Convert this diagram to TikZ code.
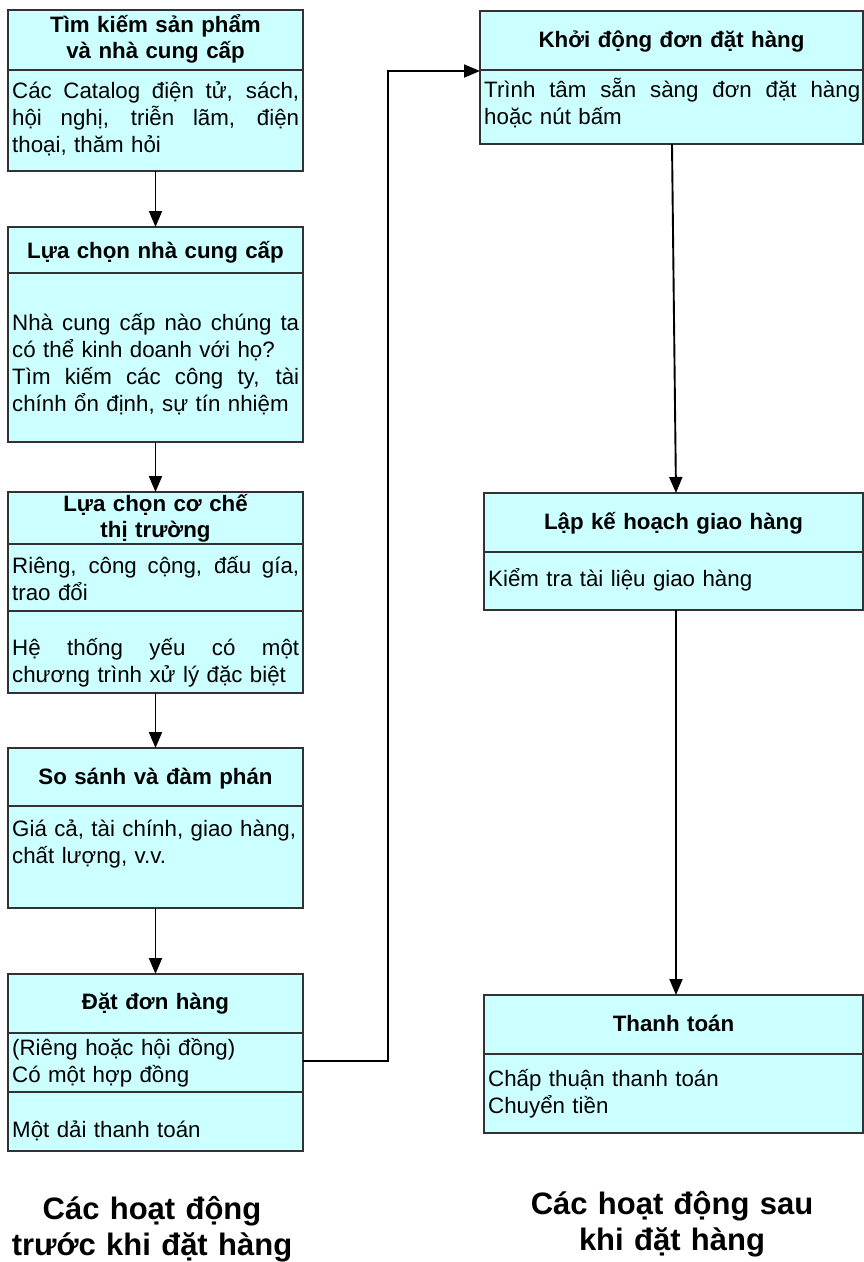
\documentclass[tikz,border=0pt]{standalone}
\usepackage{fontspec}
\setmainfont{Liberation Sans}
\usetikzlibrary{arrows.meta}

\definecolor{boxfill}{RGB}{204,255,255}
\definecolor{boxline}{RGB}{50,50,50}

% a line whose word spaces are stretched to fill the given width
\newcommand{\jl}[2]{\leavevmode\hbox to #1{\spaceskip=0.28em plus 1fil\relax #2}}

\begin{document}
\begin{tikzpicture}[x=1pt,y=-1pt,
  box/.style={draw=boxline, line width=1.1pt, fill=boxfill, inner sep=0pt, outer sep=0pt, anchor=north west},
  divider/.style={draw=boxline, line width=1.1pt},
  title/.style={font=\bfseries\fontsize{22.3}{26}\selectfont, text width=300pt, align=center, anchor=base, inner sep=0pt},
  body/.style={font=\fontsize{22.3}{27}\selectfont, text width=400pt, align=left, anchor=base west, inner sep=0pt},
  caption/.style={font=\bfseries\fontsize{31}{36}\selectfont, text width=420pt, align=center, anchor=base, inner sep=0pt},
  arr/.style={line width=1.9pt, -{Triangle[length=16pt,width=13pt]}},
]
\useasboundingbox (0,0) rectangle (864,1262);

% ---- left column: activities before ordering ----
\node[box, minimum width=295pt, minimum height=161pt] (l1) at (8,10) {};
\draw[divider] (8,70) -- (303,70);
\node[title] (l1t) at (155.5,32) {Tìm kiếm sản phẩm\\và nhà cung cấp};
\node[body] (l1b) at (12,98) {\jl{287pt}{Các Catalog điện tử, sách,}\\\jl{287pt}{hội nghị, triễn lãm, điện}\\thoại, thăm hỏi};

\node[box, minimum width=295pt, minimum height=215pt] (l2) at (8,227) {};
\draw[divider] (8,273) -- (303,273);
\node[title] (l2t) at (155.5,258) {Lựa chọn nhà cung cấp};
\node[body] (l2b) at (12,330) {\jl{287pt}{Nhà cung cấp nào chúng ta}\\có thể kinh doanh với họ?\\\jl{287pt}{Tìm kiếm các công ty, tài}\\chính ổn định, sự tín nhiệm};

\node[box, minimum width=295pt, minimum height=201pt] (l3) at (8,492) {};
\draw[divider] (8,544) -- (303,544);
\draw[divider] (8,611) -- (303,611);
\node[title] (l3t) at (155.5,511) {Lựa chọn cơ chế\\thị trường};
\node[body] (l3b) at (12,573) {\jl{287pt}{Riêng, công cộng, đấu gía,}\\trao đổi};
\node[body] (l3c) at (12,655) {\jl{287pt}{Hệ thống yếu có một}\\chương trình xử lý đặc biệt};

\node[box, minimum width=295pt, minimum height=160pt] (l4) at (8,748) {};
\draw[divider] (8,806) -- (303,806);
\node[title] (l4t) at (155.5,784) {So sánh và đàm phán};
\node[body] (l4b) at (12,836) {Giá cả, tài chính, giao hàng,\\chất lượng, v.v.};

\node[box, minimum width=295pt, minimum height=177pt] (l5) at (8,974) {};
\draw[divider] (8,1033) -- (303,1033);
\draw[divider] (8,1092) -- (303,1092);
\node[title] (l5t) at (155.5,1009) {Đặt đơn hàng};
\node[body] (l5b) at (12,1055) {(Riêng hoặc hội đồng)\\Có một hợp đồng};
\node[body] (l5c) at (12,1137) {Một dải thanh toán};

% ---- right column: activities after ordering ----
\node[box, minimum width=383pt, minimum height=133pt] (r1) at (480,11) {};
\draw[divider] (480,70) -- (863,70);
\node[title] (r1t) at (671.5,47) {Khởi động đơn đặt hàng};
\node[body] (r1b) at (484,97) {\jl{376pt}{Trình tâm sẵn sàng đơn đặt hàng}\\hoặc nút bấm};

\node[box, minimum width=379pt, minimum height=117pt] (r2) at (484,493) {};
\draw[divider] (484,552) -- (863,552);
\node[title] (r2t) at (673.5,529) {Lập kế hoạch giao hàng};
\node[body] (r2b) at (488,586) {Kiểm tra tài liệu giao hàng};

\node[box, minimum width=379pt, minimum height=138pt] (r3) at (484,995) {};
\draw[divider] (484,1054) -- (863,1054);
\node[title] (r3t) at (673.5,1031) {Thanh toán};
\node[body] (r3b) at (488,1086) {Chấp thuận thanh toán\\Chuyển tiền};

% ---- connectors ----
\draw[arr] (l1.south) -- (l2.north);
\draw[arr] (l2.south) -- (l3.north);
\draw[arr] (l3.south) -- (l4.north);
\draw[arr] (l4.south) -- (l5.north);

\coordinate (bendlow) at (388,1061);
\coordinate (bendhigh) at (388,71);
\draw[arr] (l5.east |- bendlow) -- (bendlow) -- (bendhigh) -- (r1.west |- bendhigh);

\draw[arr] ([xshift=0.5pt]r1.south) -- ([xshift=2.5pt]r2.north);
\draw[arr] ([xshift=2.5pt]r2.south) -- ([xshift=2.5pt]r3.north);

% ---- column captions ----
\node[caption] (capl) at (152,1219) {Các hoạt động\\trước khi đặt hàng};
\node[caption] (capr) at (672,1214) {Các hoạt động sau\\khi đặt hàng};
\end{tikzpicture}
\end{document}
